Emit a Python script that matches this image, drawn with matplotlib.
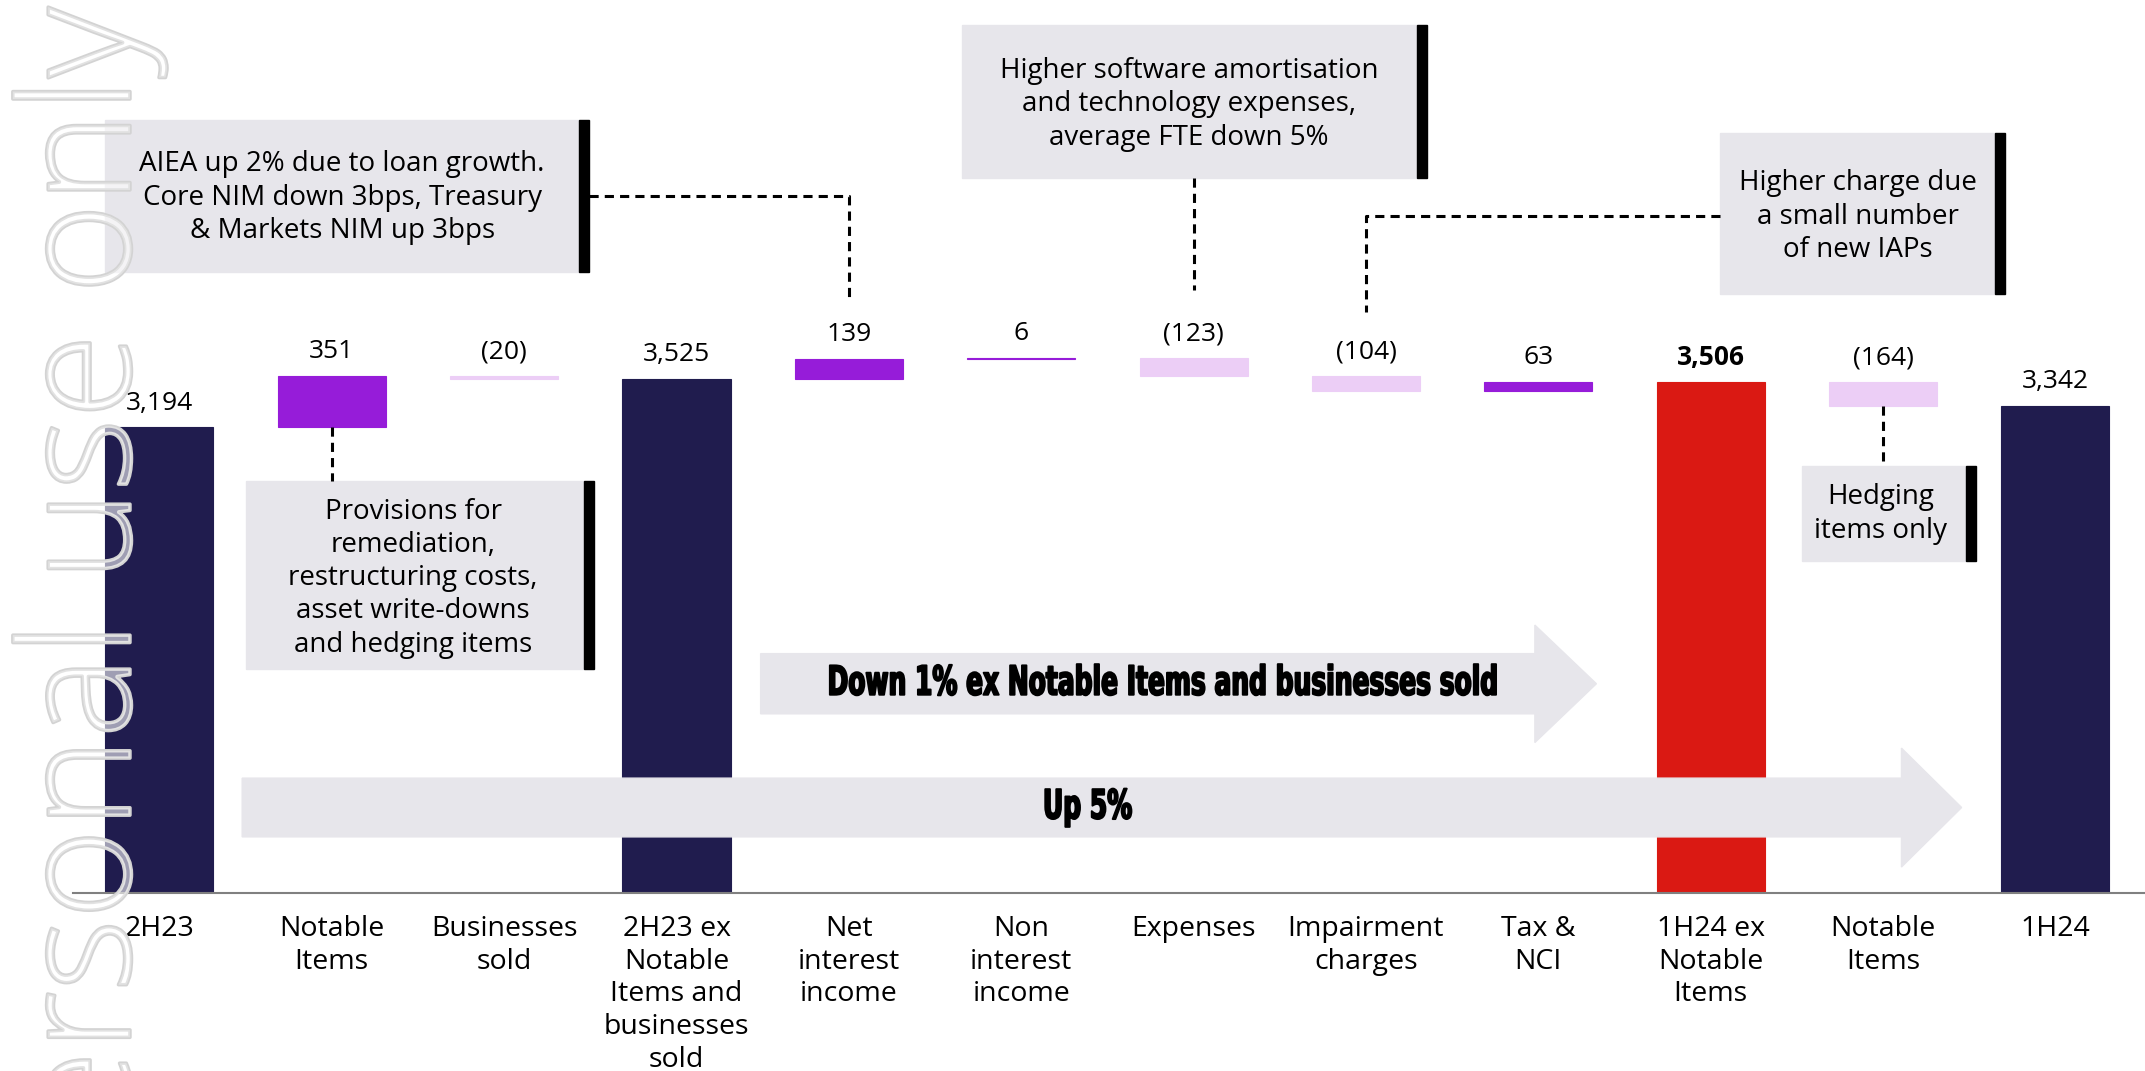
import matplotlib.pyplot as plt
from matplotlib.patches import Rectangle, Polygon
from matplotlib.transforms import Affine2D
import matplotlib.patheffects as pe

plt.rcParams['font.family'] = ['Open Sans', 'DejaVu Sans']

# waterfall data (NZ$m)
categories = ["2H23", "Notable\nItems", "Businesses\nsold",
              "2H23 ex\nNotable\nItems and\nbusinesses\nsold",
              "Net\ninterest\nincome", "Non\ninterest\nincome", "Expenses",
              "Impairment\ncharges", "Tax &\nNCI", "1H24 ex\nNotable\nItems",
              "Notable\nItems", "1H24"]
values = [3194, 351, -20, 3525, 139, 6, -123, -104, 63, 3506, -164, 3342]
is_total = [True, False, False, True, False, False, False, False, False, True, False, True]
highlight = 9  # 1H24 ex Notable Items

NAVY = '#201C4E'
PURPLE = '#961CD9'
LAVENDER = '#ECCEF6'
RED = '#DA1913'
GREY = '#E7E6EB'


class Squeeze(pe.AbstractPathEffect):
    """Narrow the glyphs horizontally around cx (display px) and embolden a bit."""

    def __init__(self, sx, cx, lw=1.0):
        super().__init__()
        self.sx, self.cx, self.lw = sx, cx, lw

    def draw_path(self, renderer, gc, tpath, affine, rgbFace=None):
        sq = Affine2D().translate(-self.cx, 0).scale(self.sx, 1).translate(self.cx, 0)
        gc0 = renderer.new_gc()
        gc0.copy_properties(gc)
        gc0.set_linewidth(renderer.points_to_pixels(self.lw))
        gc0.set_foreground('black')
        renderer.draw_path(gc0, tpath, affine + sq, rgbFace)
        gc0.restore()


fig = plt.figure(figsize=(21.45, 10.71), dpi=100)
ax = fig.add_axes([0, 0.1662, 1, 0.8338])
ax.set_xlim(-0.925, 11.52)
ax.set_ylim(0, 6126)

running = 0
bottoms = []
for i, v in enumerate(values):
    if is_total[i]:
        bottom, height = 0, v
        color = RED if i == highlight else NAVY
        running = v
    else:
        bottom = running if v > 0 else running + v
        height = abs(v)
        color = PURPLE if v > 0 else LAVENDER
        running += v
    ax.bar(i, height, bottom=bottom, width=0.627, color=color,
           edgecolor=color, linewidth=0.8, zorder=2)
    bottoms.append(bottom)
    label = f"{v:,}" if v >= 0 else f"({abs(v):,})"
    ax.annotate(label, (i, bottom + height), xytext=(0, 17.5),
                textcoords='offset points', ha='center', va='center',
                fontsize=19, fontweight='bold' if i == highlight else 'normal')

ax.set_xticks(range(len(categories)))
ax.set_xticklabels(categories, fontsize=20.5, linespacing=1.22)
ax.tick_params(axis='x', length=0, pad=16)
ax.tick_params(axis='y', left=False, labelleft=False)
for s in ['top', 'right', 'left']:
    ax.spines[s].set_visible(False)
ax.spines['bottom'].set_bounds(-0.5, 11.52)
ax.spines['bottom'].set_color('#808080')
ax.spines['bottom'].set_linewidth(1.5)


def note(x0, x1, y0, y1, text, tx, ty):
    ax.add_patch(Rectangle((x0, y0), x1 - x0, y1 - y0, color=GREY, zorder=3))
    ax.add_patch(Rectangle((x1, y0), 0.058, y1 - y0, color='black', zorder=3))
    ax.text(tx, ty, text, ha='center', va='center', fontsize=20,
            linespacing=1.25, zorder=4)


def dashed(xs, ys):
    ax.plot(xs, ys, color='black', lw=2.2, ls=(0, (3, 2)), zorder=3)


note(-0.313, 2.433, 4259, 5300,
     "AIEA up 2% due to loan growth.\nCore NIM down 3bps, Treasury\n& Markets NIM up 3bps",
     1.06, 4770)
dashed([2.49, 4.0, 4.0], [4784, 4784, 4080])

note(4.655, 7.298, 4906, 5956,
     "Higher software amortisation\nand technology expenses,\naverage FTE down 5%",
     5.972, 5410)
dashed([6.0, 6.0], [4906, 4137])

note(9.052, 10.647, 4108, 5215,
     "Higher charge due\na small number\nof new IAPs",
     9.853, 4640)
dashed([9.052, 7.0, 7.0], [4643, 4643, 3986])

note(0.504, 2.464, 1538, 2823,
     "Provisions for\nremediation,\nrestructuring costs,\nasset write-downs\nand hedging items",
     1.472, 2160)
dashed([1.0, 1.0], [bottoms[1], 2823])

note(9.528, 10.48, 2279, 2927, "Hedging\nitems only", 9.988, 2600)
dashed([10.0, 10.0], [bottoms[10], 2927])


def arrow(x0, x1, tip, yb0, yb1, yh0, yh1, text, tx):
    pts = [(x0, yb0), (x1, yb0), (x1, yh0), (tip, (yb0 + yb1) / 2),
           (x1, yh1), (x1, yb1), (x0, yb1)]
    ax.add_patch(Polygon(pts, closed=True, color=GREY, zorder=3))
    ty = (yb0 + yb1) / 2
    cx = ax.transData.transform((tx, ty))[0]
    ax.text(tx, ty, text, ha='center', va='center', fontsize=29,
            fontweight='bold', zorder=4, family='DejaVu Sans',
            path_effects=[Squeeze(0.62, cx, lw=1.0)])


arrow(3.488, 7.98, 8.337, 1229, 1642, 1032, 1838,
      "Down 1% ex Notable Items and businesses sold", 5.82)
arrow(0.48, 10.107, 10.456, 385, 788, 178, 994, "Up 5%", 5.385)

# watermark
fig.text(0.0606, 0.994, "For personal use only", rotation=90,
         rotation_mode='anchor', ha='right', va='baseline', fontsize=111,
         fontweight='light', color=(1, 1, 1, 0.35), zorder=10,
         path_effects=[pe.withStroke(linewidth=2.5, foreground='#D3D3D3')])

fig.savefig('out.png', dpi=100)
